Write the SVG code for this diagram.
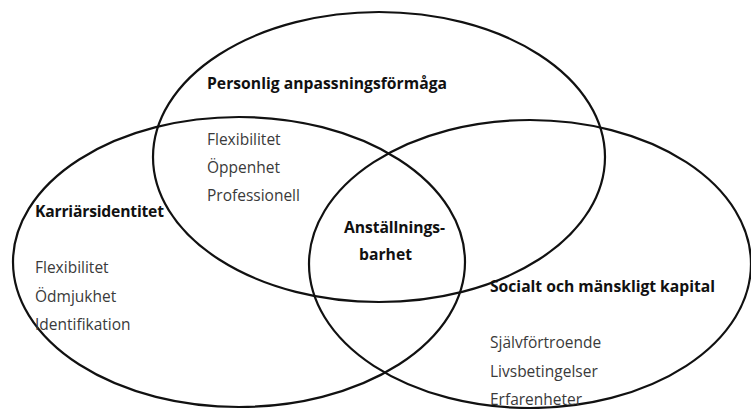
<svg xmlns="http://www.w3.org/2000/svg" width="751" height="409" viewBox="0 0 751 409">
<style>
  .c { fill: none; stroke: #111; stroke-width: 2.2; }
  .t { font-family: "Open Sans", "Noto Sans", sans-serif; font-size: 15.5px; fill: #3a3a3a; }
  .b { font-family: "Open Sans", "Noto Sans", sans-serif; font-size: 15.7px; font-weight: bold; fill: #111; }
</style>
<rect width="751" height="409" fill="#fff"/>
<g id="circles">
  <g id="personlig"><ellipse class="c" cx="379" cy="157" rx="226" ry="145"/></g>
  <g id="karriar"><ellipse class="c" cx="239" cy="262" rx="226" ry="145"/></g>
  <g id="socialt"><ellipse class="c" cx="530" cy="264" rx="221" ry="144"/></g>
</g>
<g id="labels">
  <text class="b" x="207" y="89" textLength="240">Personlig anpassningsförmåga</text>
  <text class="t" x="207" y="145">Flexibilitet</text>
  <text class="t" x="207" y="173">Öppenhet</text>
  <text class="t" x="207" y="201">Professionell</text>
  <text class="b" x="35" y="217" textLength="129">Karriärsidentitet</text>
  <text class="t" x="35" y="273">Flexibilitet</text>
  <text class="t" x="35" y="302">Ödmjukhet</text>
  <text class="t" x="35" y="330">Identifikation</text>
  <text class="b" x="344" y="233" textLength="101">Anställnings-</text>
  <text class="b" x="359" y="260" textLength="53">barhet</text>
  <text class="b" x="490" y="292" textLength="225">Socialt och mänskligt kapital</text>
  <text class="t" x="490" y="348">Självförtroende</text>
  <text class="t" x="490" y="377">Livsbetingelser</text>
  <text class="t" x="490" y="405">Erfarenheter</text>
</g>
</svg>
